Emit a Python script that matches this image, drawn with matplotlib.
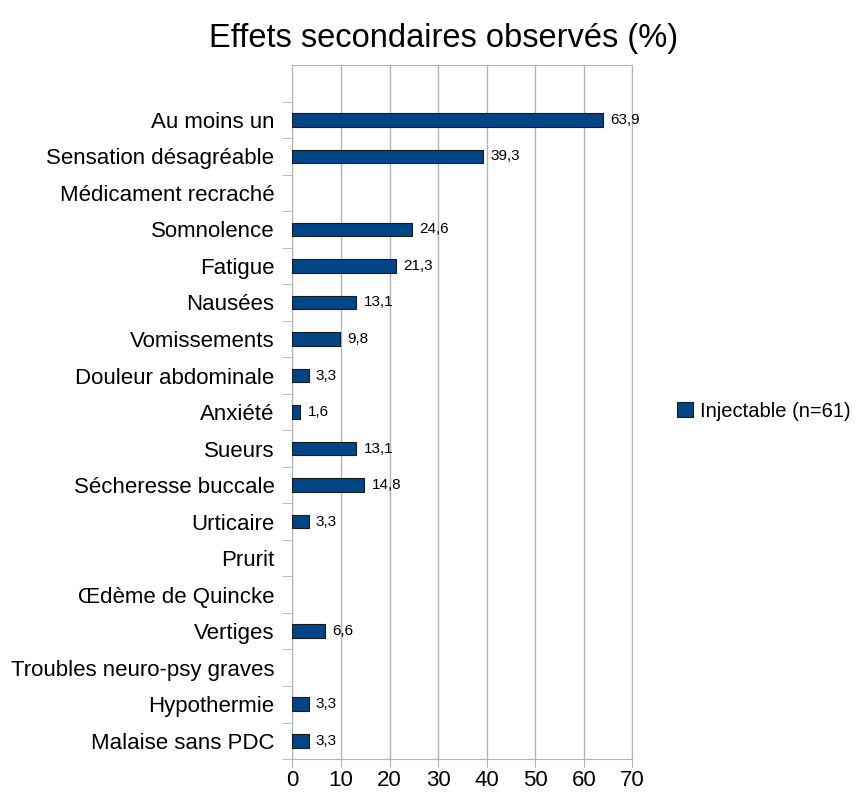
import matplotlib
matplotlib.use("Agg")
import matplotlib.pyplot as plt
from matplotlib.patches import Patch

plt.rcParams['font.family'] = ['Liberation Sans', 'DejaVu Sans']

categories = ["Au moins un", "Sensation désagréable", "Médicament recraché",
              "Somnolence", "Fatigue", "Nausées", "Vomissements",
              "Douleur abdominale", "Anxiété", "Sueurs", "Sécheresse buccale",
              "Urticaire", "Prurit", "Œdème de Quincke", "Vertiges",
              "Troubles neuro-psy graves", "Hypothermie", "Malaise sans PDC"]
values = [63.9, 39.3, None, 24.6, 21.3, 13.1, 9.8, 3.3, 1.6, 13.1, 14.8,
          3.3, None, None, 6.6, None, 3.3, 3.3]
series_name = "Injectable (n=61)"
xticks = [0, 10, 20, 30, 40, 50, 60, 70]

bar_color = '#004586'
grid_color = '#b3b3b3'

fig = plt.figure(figsize=(8.59, 8.0), dpi=100)
ax = fig.add_axes([0.3405, 0.0512, 0.3958, 0.8675])

n = len(categories)
# top band left empty, as in the original chart
ypos = [n - 1 - i for i in range(n)]
for y, v in zip(ypos, values):
    if v is None:
        continue
    ax.barh(y, v, height=0.37, color=bar_color, edgecolor='#1a1a1a',
            linewidth=0.8, zorder=3)
    ax.text(v + 1.5, y, f"{v:.1f}".replace('.', ','), va='center',
            ha='left', fontsize=11, zorder=4)

ax.set_xlim(0, 70)
ax.set_ylim(-0.5, n + 0.5)
ax.set_xticks(xticks)
ax.set_xticklabels([str(t) for t in xticks], fontsize=16)
ax.tick_params(axis='x', length=6, color=grid_color, pad=2)

ax.set_yticks(ypos)
ax.set_yticklabels(categories, fontsize=16)
ax.tick_params(axis='y', length=0, pad=13)
ax.set_yticks([k - 0.5 for k in range(n + 1)], minor=True)
ax.tick_params(axis='y', which='minor', length=7, color=grid_color)

ax.grid(axis='x', color=grid_color, linewidth=1, zorder=0)
for s in ax.spines.values():
    s.set_color(grid_color)

fig.text(0.516, 0.952, "Effets secondaires observés (%)", ha='center',
         va='center', fontsize=23.5)

handle = Patch(facecolor=bar_color, edgecolor='#1a1a1a', linewidth=0.8)
fig.legend([handle], [series_name], loc='center left',
           bbox_to_anchor=(0.767, 0.486), frameon=False, fontsize=14.5,
           handlelength=0.8, handleheight=0.8, handletextpad=0.35)

fig.savefig("out.png", dpi=100)
